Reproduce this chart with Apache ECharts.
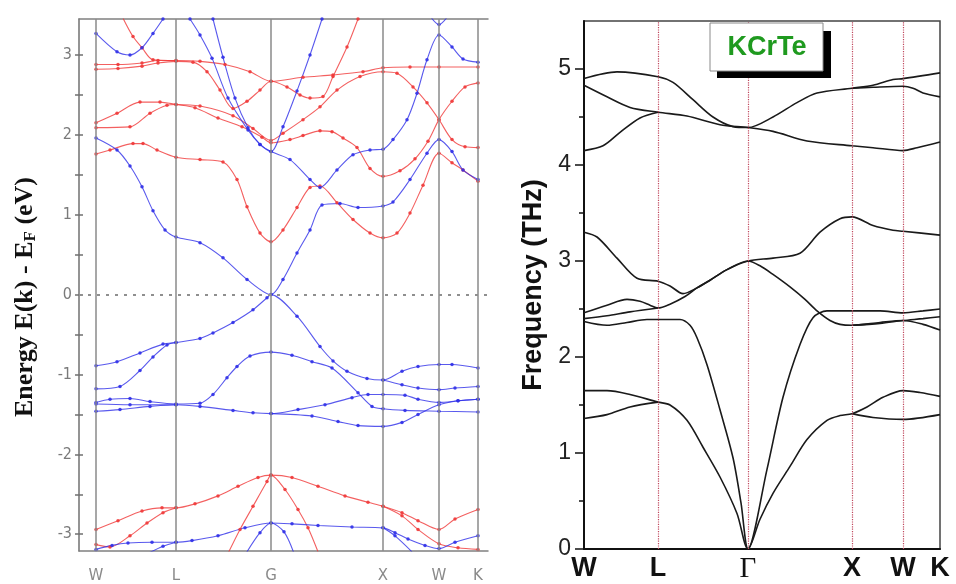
<!DOCTYPE html>
<html><head><meta charset="utf-8">
<script src="https://cdn.jsdelivr.net/npm/echarts@6/dist/echarts.min.js"></script>
<style>html,body{margin:0;padding:0;background:#fff}#c{width:956px;height:584px}</style>
</head><body><div id="c"></div>
<script>
// ---- k-path (path-length units) and tick labels ----
const leftKLabels = ['W','L','G','X','W','K'];
const leftKPos = [0, 80, 175, 287, 343, 382];
const rightKLabels = ['W','L','Γ','X','W','K'];
const rightKPos = [0, 74, 164, 268, 319, 356];
const energyTicks = [-3,-2,-1,0,1,2,3];
const energyHalfTicks = [-3,-2.5,-2,-1.5,-1,-0.5,0,0.5,1,1.5,2,2.5,3];
const freqTicks = [0,1,2,3,4,5];
const freqHalfTicks = [0.5,1.5,2.5,3.5,4.5];
const fermiLevel = [0];

// ---- electronic bands, spin channel 1 (blue) : [k, E-EF (eV)] ----
const blueA = [[0,-0.89],[21,-0.84],[44,-0.73],[67,-0.62],[80,-0.60],[104,-0.55],[117,-0.48],[137,-0.35],[157,-0.19],[171,-0.04],[175,0],[201,-0.27],[224,-0.65],[237,-0.83],[251,-0.96],[271,-1.05],[287,-1.07],[306,-0.96],[322,-0.90],[343,-0.875],[356,-0.875],[382,-0.92]];
const blueB = [[0,-1.18],[24,-1.15],[44,-0.95],[57,-0.78],[71,-0.63],[80,-0.60]];
const blueB2 = [[287,-1.07],[306,-1.13],[322,-1.17],[343,-1.19],[359,-1.17],[382,-1.15]];
const blueC = [[0,-1.35],[14,-1.31],[34,-1.30],[54,-1.34],[80,-1.37],[104,-1.36],[117,-1.25],[131,-1.04],[141,-0.90],[154,-0.77],[175,-0.72],[196,-0.76],[216,-0.84],[236,-0.92],[262,-1.23],[276,-1.40],[287,-1.43],[309,-1.45],[343,-1.46],[382,-1.47]];
const blueD = [[0,-1.37],[34,-1.38],[80,-1.38],[104,-1.40],[137,-1.45],[157,-1.48],[175,-1.49],[202,-1.44],[229,-1.38],[256,-1.29],[272,-1.25],[287,-1.25],[309,-1.26],[322,-1.31],[343,-1.35],[362,-1.33],[382,-1.31]];
const blueE = [[0,-1.46],[24,-1.44],[54,-1.40],[80,-1.38]];
const blueE2 = [[175,-1.49],[216,-1.52],[242,-1.59],[262,-1.64],[287,-1.65],[306,-1.60],[322,-1.50],[343,-1.38],[362,-1.33],[382,-1.31]];
const blueF = [[0,1.96],[21,1.81],[34,1.61],[46,1.35],[57,1.05],[69,0.81],[80,0.72],[104,0.65],[127,0.46],[151,0.19],[175,0],[187,0.19],[201,0.52],[214,0.81],[226,1.12],[244,1.14],[262,1.09],[287,1.11],[297,1.16],[314,1.44],[331,1.77],[343,1.94],[356,1.79],[367,1.56],[382,1.44]];
const blueG = [[94,3.45],[104,3.25],[116,2.96],[132,2.46],[152,2.06],[164,1.88],[175,1.79],[194,1.69],[214,1.44],[224,1.34],[241,1.56],[257,1.75],[274,1.81],[287,1.82],[297,1.94],[311,2.19],[321,2.52],[331,2.94],[343,3.25],[356,3.10],[367,2.95],[382,2.91]];
const blueH = [[117,3.45],[127,2.97],[139,2.46],[152,2.09],[164,1.88],[175,1.79],[187,2.10],[201,2.55],[214,3.00],[226,3.45]];
const blueI = [[0,3.27],[21,3.04],[34,3.00],[46,3.09],[57,3.27],[67,3.45]];
const blueJ = [[335,3.47],[343,3.38],[351,3.47]];
const blueK = [[0,-3.19],[16,-3.14],[32,-3.11],[56,-3.10],[80,-3.10],[96,-3.08],[122,-3.02],[149,-2.92],[175,-2.86],[196,-2.87],[222,-2.89],[256,-2.91],[287,-2.92],[299,-2.98],[312,-3.06],[329,-3.14],[343,-3.18],[359,-3.10],[382,-3.02]];
const blueL = [[52,-3.24],[67,-3.15],[80,-3.10]];
const blueM = [[150,-3.24],[164,-2.98],[175,-2.86],[188,-2.97],[198,-3.24]];
const blueN = [[287,-2.92],[299,-3.02],[316,-3.22]];

// ---- electronic bands, spin channel 2 (red) ----
const redA = [[0,-2.94],[22,-2.83],[46,-2.71],[66,-2.67],[80,-2.67],[99,-2.62],[122,-2.52],[142,-2.40],[162,-2.29],[175,-2.26],[196,-2.29],[222,-2.40],[249,-2.52],[272,-2.60],[287,-2.65],[306,-2.73],[322,-2.83],[343,-2.94],[359,-2.81],[382,-2.69]];
const redB = [[0,-3.13],[14,-3.16],[34,-3.02],[51,-2.86],[67,-2.73],[80,-2.67]];
const redC = [[132,-3.24],[144,-2.94],[157,-2.65],[171,-2.34],[175,-2.26],[189,-2.44],[202,-2.69],[212,-2.92],[222,-3.22]];
const redD = [[287,-2.65],[306,-2.77],[322,-2.94],[343,-3.12],[362,-3.17],[382,-3.19]];
const redE = [[0,1.76],[14,1.81],[37,1.89],[47,1.89],[61,1.81],[80,1.72],[104,1.69],[127,1.66],[141,1.44],[151,1.10],[164,0.77],[175,0.66],[187,0.81],[201,1.09],[214,1.34],[224,1.36],[241,1.15],[257,0.94],[274,0.77],[287,0.71],[301,0.77],[314,1.02],[327,1.37],[343,1.77],[356,1.65],[367,1.56],[382,1.42]];
const redF = [[0,2.15],[21,2.27],[44,2.41],[64,2.41],[80,2.38],[99,2.34],[122,2.21],[146,2.10],[166,1.97],[175,1.90],[194,1.94],[207,1.99],[224,2.05],[236,2.04],[247,1.96],[261,1.84],[274,1.58],[287,1.48],[304,1.55],[319,1.70],[332,1.92],[343,2.19],[356,2.42],[369,2.60],[382,2.65]];
const redG = [[0,2.09],[34,2.10],[54,2.27],[71,2.37],[80,2.38],[104,2.36],[137,2.24],[157,2.08],[175,1.93],[187,2.02],[207,2.19],[224,2.35],[241,2.56],[264,2.73],[287,2.79],[301,2.77],[317,2.60],[331,2.40],[343,2.19],[356,1.94],[369,1.85],[382,1.84]];
const redH = [[0,2.88],[22,2.88],[46,2.90],[62,2.93],[80,2.93],[104,2.92],[129,2.88],[154,2.79],[175,2.67],[207,2.72],[237,2.75],[267,2.79],[287,2.84],[314,2.85],[343,2.85],[382,2.85]];
const redI = [[0,2.82],[22,2.83],[46,2.86],[62,2.90],[80,2.92],[97,2.91],[111,2.79],[124,2.56],[137,2.33],[151,2.42],[164,2.56],[175,2.67],[191,2.60],[204,2.50],[214,2.46],[227,2.48],[237,2.73],[251,3.10],[262,3.45]];
const redJ = [[27,3.46],[37,3.23],[46,3.09],[57,2.94],[80,2.93]];

// ---- phonon branches : [k, frequency (THz)] ----
const ph1 = [[0,4.90],[33,4.97],[74,4.92],[89,4.86],[109,4.68],[129,4.50],[149,4.40],[164,4.39],[189,4.50],[213,4.65],[233,4.75],[268,4.80],[289,4.83],[309,4.89],[319,4.90],[356,4.96]];
const ph2 = [[0,4.83],[23,4.71],[46,4.60],[74,4.55],[103,4.51],[136,4.42],[164,4.39],[189,4.35],[223,4.25],[268,4.20],[289,4.18],[319,4.15],[333,4.18],[356,4.24]];
const ph3 = [[0,4.15],[19,4.20],[36,4.34],[56,4.49],[74,4.55]];
const ph3b = [[268,4.80],[289,4.81],[319,4.82],[329,4.80],[339,4.75],[356,4.71]];
const ph4 = [[0,3.30],[13,3.25],[33,3.03],[53,2.82],[74,2.79],[86,2.74],[99,2.66],[113,2.72],[126,2.80],[143,2.91],[164,3.00],[189,3.03],[216,3.08],[236,3.30],[256,3.44],[268,3.46],[289,3.37],[309,3.32],[319,3.31],[356,3.27]];
const ph5 = [[0,2.46],[23,2.54],[43,2.60],[56,2.58],[66,2.54],[74,2.51],[86,2.55],[101,2.63],[113,2.72],[126,2.80],[143,2.91],[164,3.00],[176,2.95],[189,2.86],[206,2.73],[221,2.60],[233,2.48],[246,2.38],[256,2.34],[268,2.33],[296,2.36],[319,2.38],[339,2.34],[356,2.28]];
const ph6 = [[0,2.40],[23,2.43],[46,2.47],[74,2.51]];
const ph6b = [[268,2.33],[296,2.35],[319,2.38],[339,2.40],[356,2.42]];
const ph7 = [[0,2.37],[23,2.33],[43,2.36],[63,2.39],[74,2.39],[96,2.39],[106,2.33],[113,2.20],[123,1.92],[136,1.45],[149,0.95],[157,0.48],[164,0],[183,0.83],[199,1.58],[216,2.13],[229,2.41],[243,2.48],[268,2.48],[296,2.48],[319,2.46],[339,2.48],[356,2.50]];
const ph8 = [[0,1.65],[23,1.65],[46,1.61],[74,1.53],[86,1.50],[103,1.34],[119,1.06],[136,0.75],[153,0.37],[164,0],[176,0.31],[189,0.58],[206,0.86],[223,1.14],[243,1.34],[256,1.39],[268,1.41],[283,1.48],[299,1.58],[319,1.65],[336,1.63],[356,1.59]];
const ph9 = [[0,1.36],[23,1.40],[46,1.48],[74,1.53]];
const ph9b = [[268,1.41],[289,1.37],[319,1.35],[356,1.40]];

const blueBands = [blueA, blueB, blueB2, blueC, blueD, blueE, blueE2, blueF, blueG, blueH, blueI, blueJ, blueK, blueL, blueM, blueN];
const redBands = [redA, redB, redC, redD, redE, redF, redG, redH, redI, redJ];
const phononBands = [ph1, ph2, ph3, ph3b, ph4, ph5, ph6, ph6b, ph7, ph8, ph9, ph9b];

const chart = echarts.init(document.getElementById('c'), null, {renderer: 'canvas'});

function bandSeries(data, color) {
  return {
    type: 'line', xAxisIndex: 0, yAxisIndex: 0, data: data,
    smooth: 0.3, symbol: 'circle', symbolSize: 3.5, showSymbol: true,
    lineStyle: {color: color, width: 1.1, opacity: 0.8},
    itemStyle: {color: color, opacity: 0.9},
    silent: true, animation: false, clip: true, z: 3
  };
}
function phononSeries(data) {
  return {
    type: 'line', xAxisIndex: 2, yAxisIndex: 2, data: data,
    smooth: 0.3, symbol: 'none',
    lineStyle: {color: '#1a1a1a', width: 1.6},
    silent: true, animation: false, clip: true, z: 3
  };
}

const series = [];
// guide lines (left panel): k-point verticals
series.push({
  type: 'line', xAxisIndex: 0, yAxisIndex: 0, data: [], silent: true, animation: false, z: 1,
  markLine: {
    silent: true, symbol: 'none', animation: false, label: {show: false},
    lineStyle: {color: '#8a8a8a', width: 1.5, type: 'solid'},
    data: leftKPos.map(v => ({xAxis: v}))
  }
});
// Fermi level dashed line
series.push({
  type: 'line', xAxisIndex: 0, yAxisIndex: 0, data: [], silent: true, animation: false, z: 1,
  markLine: {
    silent: true, symbol: 'none', animation: false, label: {show: false},
    lineStyle: {color: '#8f8f8f', width: 2, type: [3, 6]},
    data: fermiLevel.map(v => ({yAxis: v}))
  }
});
// guide lines (right panel)
series.push({
  type: 'line', xAxisIndex: 2, yAxisIndex: 2, data: [], silent: true, animation: false, z: 1,
  markLine: {
    silent: true, symbol: 'none', animation: false, label: {show: false},
    lineStyle: {color: '#c0485e', width: 1.2, type: 'dotted'},
    data: rightKPos.slice(1, 5).map(v => ({xAxis: v}))
  }
});
redBands.forEach(b => series.push(bandSeries(b, '#f03838')));
blueBands.forEach(b => series.push(bandSeries(b, '#3030e8')));
phononBands.forEach(b => series.push(phononSeries(b)));

const option = {
  backgroundColor: '#ffffff',
  animation: false,
  grid: [
    {left: 79, top: 19, width: 409, height: 533, show: false},
    {left: 584, top: 21, width: 356, height: 532, show: true, borderColor: '#444', borderWidth: 1.5, backgroundColor: 'transparent'}
  ],
  xAxis: [
    {gridIndex: 0, type: 'value', min: -17, max: 392, position: 'bottom',
     axisLine: {onZero: false, lineStyle: {color: '#808080', width: 1.5}}, axisTick: {show: false}, splitLine: {show: false},
     axisLabel: {customValues: leftKPos, formatter: v => leftKLabels[leftKPos.indexOf(v)], color: '#8a8a8a', fontSize: 15, margin: 18, fontFamily: 'DejaVu Sans'}},
    {gridIndex: 0, type: 'value', min: -17, max: 392, position: 'top',
     axisLine: {onZero: false, lineStyle: {color: '#808080', width: 1.5}}, axisTick: {show: false}, splitLine: {show: false}, axisLabel: {show: false}},
    {gridIndex: 1, type: 'value', min: 0, max: 356, position: 'bottom',
     axisLine: {onZero: false, lineStyle: {color: '#111', width: 2}}, axisTick: {show: false}, splitLine: {show: false},
     axisLabel: {customValues: rightKPos, margin: 6,
       formatter: v => { const t = rightKLabels[rightKPos.indexOf(v)]; return t === 'Γ' ? '{g|Γ}' : '{b|' + t + '}'; },
       rich: {b: {fontSize: 27, fontWeight: 'bold', fontFamily: 'Liberation Sans', color: '#111'},
              g: {fontSize: 29, fontFamily: 'Liberation Serif', color: '#111'}}}}
  ],
  yAxis: [
    {gridIndex: 0, type: 'value', min: -3.21, max: 3.45, position: 'left',
     axisLine: {show: true, onZero: false, lineStyle: {color: '#707070', width: 1.5}},
     axisTick: {show: true, customValues: energyHalfTicks, length: 4, lineStyle: {color: '#707070', width: 1.5}},
     splitLine: {show: false},
     axisLabel: {customValues: energyTicks, color: '#7a7a7a', fontSize: 16, margin: 7, fontFamily: 'Liberation Sans Narrow, DejaVu Sans Condensed, sans-serif'},
     name: '{b|Energy E(k) - E}{s|F}{b| (eV)}', nameLocation: 'middle', nameGap: 40, nameRotate: 90,
     nameTextStyle: {padding: [0, 24, 0, 0], rich: {
       b: {fontSize: 26, fontWeight: 'bold', fontFamily: 'Liberation Serif', color: '#111'},
       s: {fontSize: 17, fontWeight: 'bold', fontFamily: 'Liberation Serif', color: '#111', verticalAlign: 'bottom', padding: [10, 0, 0, 0]}}}},
    {gridIndex: 0, type: 'value', min: -3.21, max: 3.45, position: 'left',
     axisLine: {show: false, onZero: false}, axisTick: {show: true, inside: true, customValues: energyHalfTicks, length: 4, lineStyle: {color: '#707070', width: 1.5}},
     axisLabel: {show: false}, splitLine: {show: false}},
    {gridIndex: 1, type: 'value', min: 0, max: 5.5, position: 'left',
     axisLine: {show: true, onZero: false, lineStyle: {color: '#111', width: 2}},
     axisTick: {show: true, customValues: freqTicks, length: 9, lineStyle: {color: '#111', width: 1.5}},
     splitLine: {show: false},
     axisLabel: {customValues: freqTicks, color: '#222', fontSize: 23, margin: 13, fontFamily: 'Liberation Sans'},
     name: 'Frequency (THz)', nameLocation: 'middle', nameGap: 37,
     nameTextStyle: {fontSize: 27, fontWeight: 'bold', fontFamily: 'Liberation Sans', color: '#111'}},
    {gridIndex: 1, type: 'value', min: 0, max: 5.5, position: 'left',
     axisLine: {show: false, onZero: false}, axisTick: {show: true, customValues: freqHalfTicks, length: 5, lineStyle: {color: '#111', width: 1.5}},
     axisLabel: {show: false}, splitLine: {show: false}}
  ],
  graphic: [
    {type: 'rect', shape: {x: 717, y: 31, width: 114, height: 47}, style: {fill: '#000'}, z: 100},
    {type: 'rect', shape: {x: 710, y: 23, width: 113, height: 48}, style: {fill: '#fff', stroke: '#8a8a8a', lineWidth: 1}, z: 101},
    {type: 'text', x: 767, y: 48, style: {text: 'KCrTe', fill: '#1f9a1f', font: 'bold 27px "Liberation Sans", Arial, sans-serif', align: 'center', verticalAlign: 'middle'}, z: 102}
  ],
  series: series
};
chart.setOption(option);
</script></body></html>
